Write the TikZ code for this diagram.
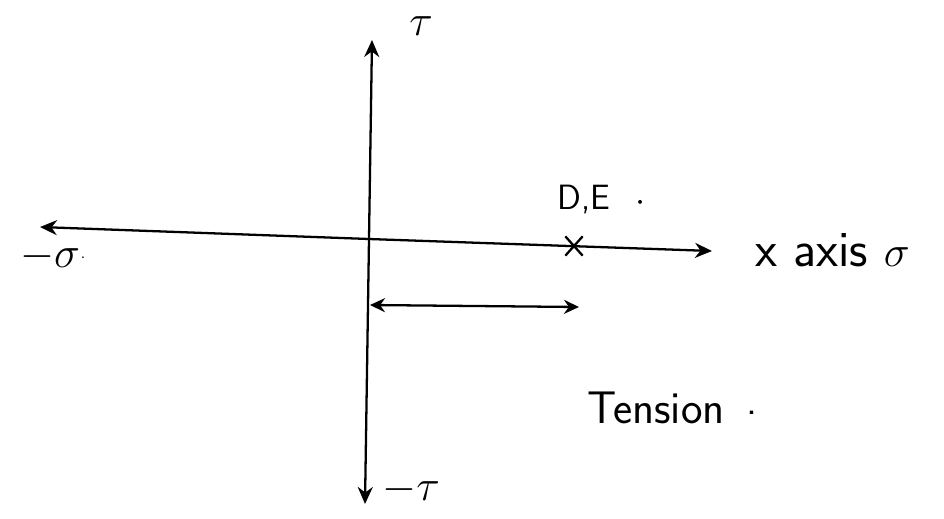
\documentclass[tikz,border=0pt]{standalone}
\usetikzlibrary{arrows.meta,shapes.misc}
\begin{document}
\begin{tikzpicture}[x=0.02cm,y=-0.02cm,
  axisline/.style={line width=1.3pt,-{Stealth[length=3.4mm,width=3mm]}},
  twoway/.style={line width=1.3pt,{Stealth[length=3mm,width=2.8mm]}-{Stealth[length=3mm,width=2.8mm]}},
  lbl/.style={inner sep=0pt,font=\fontsize{24}{28}\selectfont\sffamily},
  small/.style={inner sep=0pt,font=\fontsize{20}{24}\selectfont\sffamily}]
\useasboundingbox (0,0) rectangle (944,518);
% axis end points
\coordinate (vt) at (372,40);
\coordinate (vb) at (365,504);
\coordinate (hl) at (40,227);
\coordinate (hr) at (712,251);
\coordinate (v0) at (369,239);
\draw[axisline] (v0) -- (vt);
\draw[axisline] (v0) -- (vb);
\draw[axisline] (v0) -- (hl);
\draw[axisline] (v0) -- (hr);
% cross mark
\node[cross out,draw,line width=1.3pt,minimum width=0.3cm,minimum height=0.34cm,inner sep=0pt] (de) at (574,246) {};
% double arrow
\coordinate (ta) at (370,305);
\coordinate (tb) at (579,307);
\draw[twoway] (ta) -- (tb);
% labels
\node[lbl,font=\fontsize{30}{34}\selectfont] (tau) at (421,26) {$\tau$};
\node[lbl,font=\fontsize{27}{30}\selectfont] (msig) at (50,257) {$-\sigma$};
\node[lbl,anchor=west] (msigdot) at (msig.east) {\raisebox{-2pt}{\fontsize{10}{12}\selectfont.}};
\node[small] (delab) at (584,199) {D,E};
\node[small] (dedot) at (641,203) {$\cdot$};
\node[lbl,anchor=west,font=\fontsize{29}{32}\selectfont\sffamily] (xaxis) at (755,250) {x axis $\sigma$};
\node[lbl,font=\fontsize{26}{30}\selectfont\sffamily] (tension) at (656,408) {Tension};
\node[lbl] (tdot) at (752,413) {.};
\node[lbl,font=\fontsize{26}{30}\selectfont] (mtau) at (411,490) {$-\tau$};
\end{tikzpicture}
\end{document}
